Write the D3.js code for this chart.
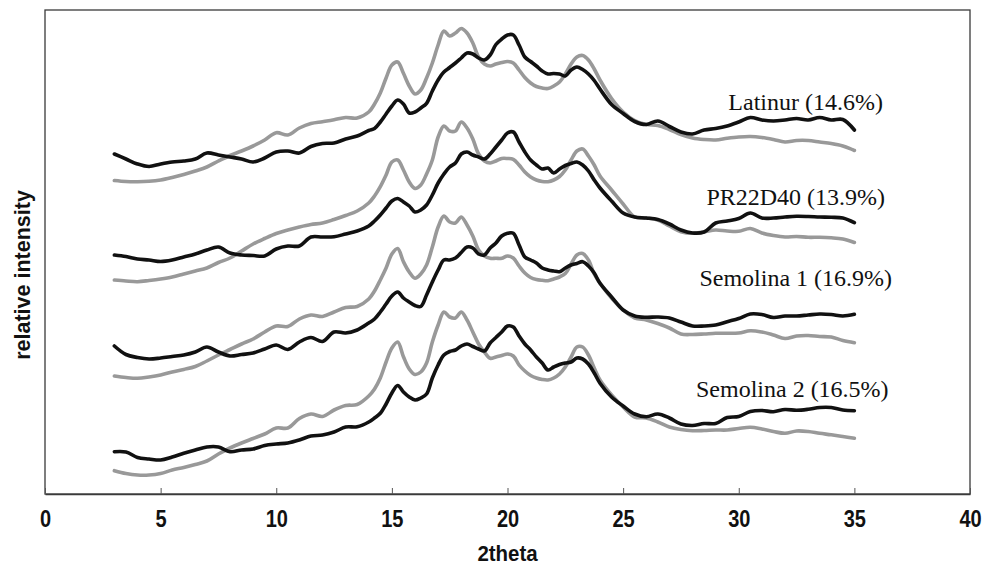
<!DOCTYPE html>
<html>
<head>
<meta charset="utf-8">
<script src="https://cdn.jsdelivr.net/npm/d3@7"></script>
<style>
  body { margin: 0; background: #fff; }
</style>
</head>
<body>
<div id="xrd-chart"></div>
<script>
// 2theta grid: 0.5 steps on the flat parts, 0.25 around the peaks
var twoTheta = d3.range(3, 14.01, 0.5)
  .concat(d3.range(14.25, 24.01, 0.25))
  .concat(d3.range(24.5, 35.01, 0.5));

var sampleNames = ["Latinur (14.6%)", "PR22D40 (13.9%)", "Semolina 1 (16.9%)", "Semolina 2 (16.5%)"];

// intensities (stacked, arbitrary units)
var latinurGrey = [
  313.5, 312.5, 312.3, 312.7, 314, 316.5, 319.5, 323, 327, 333, 338.5, 343, 348, 354, 361.3, 359, 366, 370.5, 372.3, 374.2, 376.5, 376, 382,
  390, 401, 416, 429, 432, 420.7, 408, 400, 404, 416, 431, 449, 463, 458, 461, 465.5, 461, 451, 437, 430, 428, 430, 431.5, 432.5, 431, 424, 416.5, 411, 407.5, 406, 405.5, 408, 412, 420, 430, 437, 438.5, 434, 425, 414,
  395.5, 382, 373.5, 369.5, 368.5, 364.5, 359.5, 356, 354.5, 354, 355.7, 357, 357.5, 356.5, 354.5, 352, 353.5, 353.5, 352, 350.5, 348, 343.5];
var latinurBlack = [
  340, 335, 330, 327.5, 330, 332, 333, 335, 341, 339, 337, 335, 332, 336, 342, 343, 341, 347.5, 350.5, 351, 355, 358, 363.5,
  365.5, 372, 380, 388, 394, 390, 381, 382, 386, 390.7, 403, 414, 422, 426.5, 431, 436, 441, 440, 436, 434, 439, 449.5, 455, 459, 459, 449, 437, 432.5, 428, 423, 420, 420.5, 420, 418, 424, 427, 424.5, 420, 413.5, 405,
  389.5, 380.5, 372.5, 369.5, 373, 367.5, 362, 360, 364, 365.5, 368, 372, 376.5, 374, 373, 374, 375.5, 374, 376.5, 374, 374.5, 364];
var pr22d40Grey = [
  214, 213, 212.3, 213.5, 215, 217, 220, 223, 226, 231.5, 236, 243, 250, 255.5, 260.5, 264, 267, 269.5, 271, 274.5, 278.5, 283, 291,
  298, 307.3, 319, 332, 334, 324, 312, 305.5, 309, 320, 334, 357, 368, 363, 363, 372, 366, 355, 340, 333, 331, 333, 335.5, 335.5, 334.7, 329, 322, 317, 314, 312.5, 312.3, 314, 317.5, 324, 334, 343, 345, 338, 329, 318,
  304, 290, 277, 276, 274, 268, 262.3, 260.7, 262, 264, 263, 262.7, 265.5, 261, 258.5, 257, 257.5, 256.7, 256.7, 256.2, 255, 251.5];
var pr22d40Black = [
  239, 237.5, 235, 234, 232.5, 234, 237, 240, 244, 247, 241, 239, 238.5, 238, 245, 248, 248, 257, 257, 257.3, 260, 263, 268,
  273, 279, 286, 293, 295.5, 292, 288, 282, 284, 289, 299, 311, 320, 327, 331, 340, 342, 339, 337, 335, 340, 347, 354, 361, 362, 352, 342, 334, 329, 325, 326, 321, 325, 328.5, 330.5, 332, 329, 323, 314, 306,
  293, 281, 277, 276, 274.5, 270, 264, 261, 262, 271, 273, 275.5, 281, 276, 276, 277, 277.7, 277.5, 277, 276.7, 276, 271.3];
var semolina1Grey = [
  118, 116.5, 115.7, 117, 119, 122, 124.5, 127.5, 133, 139, 144.5, 150, 155, 162, 168, 167.5, 175, 179, 177.5, 182, 186.5, 187.5, 195,
  203, 214, 226, 240, 245.5, 232.3, 222, 215.7, 220, 229, 247, 267, 278, 272, 271, 277, 269, 258, 244, 238, 235.7, 235.7, 235.7, 238, 236, 228, 221, 216.5, 214.5, 213.7, 213.3, 215, 217, 220.5, 230, 239, 240.5, 234, 220, 210.7,
  196, 184, 176, 174, 170.5, 166, 160, 159.5, 160, 160.7, 160.7, 161, 163.3, 162, 159, 155.5, 158, 158.5, 157.5, 157, 153.5, 151.3];
var semolina1Black = [
  148, 139.5, 136.5, 135, 136, 137.5, 139, 142, 147, 142, 138, 139.5, 141, 145, 149, 144.5, 152, 156.5, 152.5, 162, 161, 164, 171,
  175, 182, 190, 198, 202, 196, 192, 188.5, 187.5, 199, 212, 224, 234, 234, 236, 241.5, 247, 246, 240, 239, 246, 251, 258, 260.7, 260.7, 249, 237, 234, 231, 226, 224, 223, 222.3, 226, 229, 230.5, 232.3, 228, 221, 210.7,
  197, 184, 178, 176.7, 177, 176, 172, 168, 168, 169, 172.3, 175.5, 180, 179.5, 176.5, 178, 178, 179, 180, 179.5, 178, 179.7];
var semolina2Grey = [
  23.3, 20.5, 19, 19, 20.5, 24, 26.5, 29.5, 33, 40, 46, 51, 55.5, 60, 66, 66, 75.5, 80, 77.5, 84, 88.5, 89.5, 98,
  105, 116, 132, 146, 152, 137.3, 125, 119.5, 122, 131, 152, 169, 182, 177, 176, 182, 174, 162, 150, 142, 135.7, 137, 138.5, 140, 138, 129, 123, 118.5, 116, 114.5, 114, 116, 120, 127, 137, 147, 147, 139, 126, 114,
  99, 87, 77, 76, 72, 67, 64.5, 63.3, 63.5, 64, 64, 65.5, 66.7, 65, 62.5, 60.7, 63, 62.5, 60.7, 59.2, 57.5, 55.7];
var semolina2Black = [
  42.3, 42, 36.5, 35, 34, 37, 40.7, 44, 47, 47, 42.3, 44, 45, 48.5, 50, 51, 54, 58, 59, 62, 67, 67.3, 72,
  76, 80.7, 90, 101, 108.5, 102, 97, 94, 96, 100, 116, 129, 139, 142.5, 144, 148, 150, 147.5, 145, 143, 151, 156.5, 162, 168, 167, 158, 150, 144, 137, 131, 124, 127, 129.5, 131, 132, 136, 135, 130, 121, 110.7,
  97, 88, 80, 77.3, 80, 76, 70, 68.5, 70.5, 70.5, 76.5, 77.5, 82.5, 83.5, 82.3, 84.5, 83.7, 84.7, 86.5, 86.5, 84, 83.3];

var xTicks = [0, 5, 10, 15, 20, 25, 30, 35, 40];

// set the dimensions and margins of the graph
var margin = {top: 10, right: 16, bottom: 78, left: 45},
    width = 986 - margin.left - margin.right,
    height = 572 - margin.top - margin.bottom;

var svg = d3.select("#xrd-chart")
  .append("svg")
    .attr("width", width + margin.left + margin.right)
    .attr("height", height + margin.top + margin.bottom)
  .append("g")
    .attr("transform", "translate(" + margin.left + "," + margin.top + ")");

var x = d3.scaleLinear().domain([0, 40]).range([0, width]);
var y = d3.scaleLinear().domain([0, 484]).range([height, 0]);

var sans = "'Liberation Sans', Arial, sans-serif";

// frame
svg.append("rect")
  .attr("width", width)
  .attr("height", height)
  .attr("fill", "none")
  .attr("stroke", "#3a3a3a")
  .attr("stroke-width", 1.3);

// x axis, ticks pointing inwards
var xAxis = svg.append("g")
  .attr("transform", "translate(0," + height + ")")
  .call(d3.axisBottom(x).tickValues(xTicks).tickSize(-6).tickSizeOuter(0).tickPadding(17));
xAxis.select(".domain").attr("stroke", "#3a3a3a").attr("stroke-width", 1.3);
xAxis.selectAll(".tick line").attr("stroke", "#555");
// the original labels are a narrow bold face, squeeze them a bit
xAxis.selectAll("text")
  .attr("fill", "#111")
  .attr("transform", "scale(0.87,1)")
  .style("font-family", sans)
  .style("font-weight", "bold")
  .style("font-size", "23px");

svg.append("text")
  .attr("transform", "translate(" + x(20) + "," + (height + 67) + ") scale(0.93,1)")
  .attr("text-anchor", "middle")
  .style("font-family", sans)
  .style("font-weight", "bold")
  .style("font-size", "22px")
  .attr("fill", "#111")
  .text("2theta");

svg.append("text")
  .attr("transform", "translate(" + (30 - margin.left) + "," + (275 - margin.top) + ") rotate(-90)")
  .attr("text-anchor", "middle")
  .style("font-family", sans)
  .style("font-weight", "bold")
  .style("font-size", "21.5px")
  .attr("fill", "#111")
  .text("relative intensity");

var pairs = [
  {name: sampleNames[0], grey: latinurGrey, black: latinurBlack},
  {name: sampleNames[1], grey: pr22d40Grey, black: pr22d40Black},
  {name: sampleNames[2], grey: semolina1Grey, black: semolina1Black},
  {name: sampleNames[3], grey: semolina2Grey, black: semolina2Black}
];

var line = d3.line()
  .x(function(d) { return x(d[0]); })
  .y(function(d) { return y(d[1]); })
  .curve(d3.curveCatmullRom.alpha(0.5));

function points(values) {
  return values.map(function(v, i) { return [twoTheta[i], v]; });
}

pairs.forEach(function(p) {
  svg.append("path")
    .attr("d", line(points(p.grey)))
    .attr("fill", "none")
    .attr("stroke", "#999")
    .attr("stroke-width", 3.6)
    .attr("stroke-linejoin", "round")
    .attr("stroke-linecap", "round");
  svg.append("path")
    .attr("d", line(points(p.black)))
    .attr("fill", "none")
    .attr("stroke", "#111")
    .attr("stroke-width", 3.6)
    .attr("stroke-linejoin", "round")
    .attr("stroke-linecap", "round");
});

// sample labels (left edge in 2theta, baseline in intensity units)
var labelPos = [[29.55, 384.5], [28.6, 289], [28.3, 208], [28.15, 96.7]];
pairs.forEach(function(p, i) {
  svg.append("text")
    .attr("x", x(labelPos[i][0]))
    .attr("y", y(labelPos[i][1]))
    .style("font-family", "'Liberation Serif', 'Times New Roman', serif")
    .style("font-size", "24px")
    .attr("fill", "#111")
    .text(p.name);
});
</script>
</body>
</html>
